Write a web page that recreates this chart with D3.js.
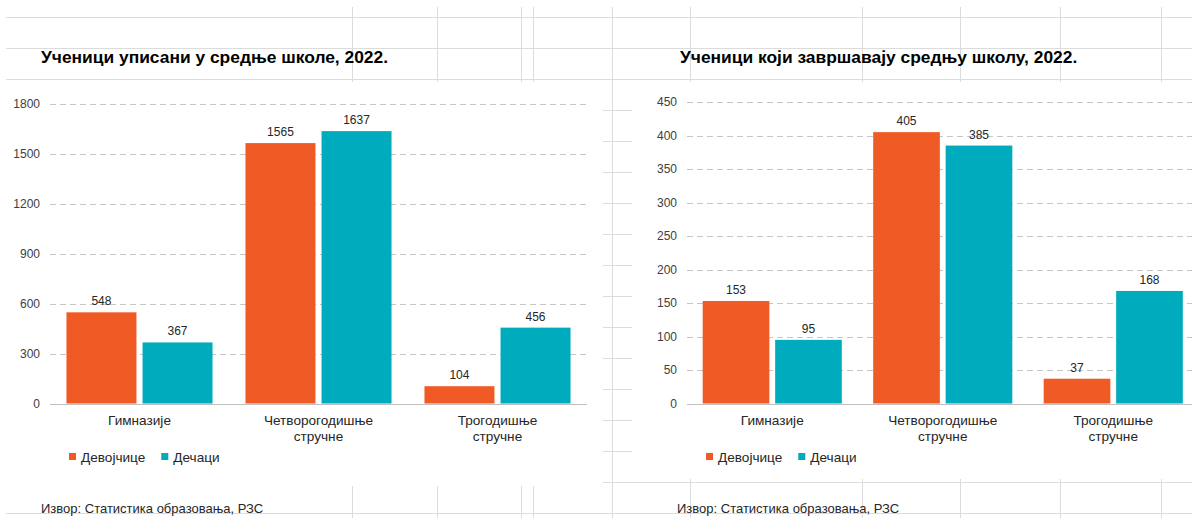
<!DOCTYPE html>
<html>
<head>
<meta charset="utf-8">
<script src="https://cdn.jsdelivr.net/npm/d3@7"></script>
<style>
  body { margin: 0; background: #fff; }
  svg { display: block; font-family: "Liberation Sans", Arial, sans-serif; }
</style>
</head>
<body>
<div id="chart"></div>
<script>
// data
var categories = ["Гимназије", "Четворогодишње стручне", "Трогодишње стручне"];
var seriesNames = ["Девојчице", "Дечаци"];
var seriesColors = ["#f05a24", "#00abbd"];

var enrolledGirls = [548, 1565, 104];
var enrolledBoys = [367, 1637, 456];
var enrolledTicks = [0, 300, 600, 900, 1200, 1500, 1800];

var finishingGirls = [153, 405, 37];
var finishingBoys = [95, 385, 168];
var finishingTicks = [0, 50, 100, 150, 200, 250, 300, 350, 400, 450];

var titles = ["Ученици уписани у средње школе, 2022.", "Ученици који завршавају средњу школу, 2022."];
var sourceText = "Извор: Статистика образовања, РЗС";

var W = 1192, H = 518;

var svg = d3.select("#chart").append("svg")
    .attr("width", W)
    .attr("height", H);

// spreadsheet cell lines behind the charts
var sheet = svg.append("g").attr("stroke", "#dcdcdc").attr("stroke-width", 1);
d3.range(17, H, 31).forEach(function(y) {
  sheet.append("line").attr("x1", 6).attr("x2", W).attr("y1", y + 0.5).attr("y2", y + 0.5);
});
[352, 437, 521, 533, 612, 690, 862, 960, 1060, 1161].forEach(function(x) {
  sheet.append("line").attr("x1", x + 0.5).attr("x2", x + 0.5).attr("y1", 7).attr("y2", H);
});

// white chart boxes
svg.append("rect").attr("x", 0).attr("y", 82).attr("width", 603).attr("height", 404).attr("fill", "#fff");
svg.append("rect").attr("x", 632).attr("y", 82).attr("width", W - 632).attr("height", 397).attr("fill", "#fff");

function drawChart(cfg) {
  var g = svg.append("g");

  var y = d3.scaleLinear()
      .domain([0, d3.max(cfg.ticks)])
      .range([cfg.bottom, cfg.top]);

  var x0 = d3.scaleBand()
      .domain(categories)
      .range([cfg.left, cfg.right])
      .paddingInner(0.184)
      .paddingOuter(0.092);

  var x1 = d3.scaleBand()
      .domain(seriesNames)
      .range([0, x0.bandwidth()])
      .paddingInner(0.08);

  // title
  g.append("text")
      .attr("x", cfg.titleX)
      .attr("y", 63)
      .attr("font-size", 17.4)
      .attr("font-weight", "bold")
      .attr("fill", "#000")
      .text(cfg.title);

  // dashed gridlines
  var yAxis = d3.axisLeft(y)
      .tickValues(cfg.ticks)
      .tickFormat(d3.format("d"))
      .tickSize(-(cfg.gridRight - cfg.left))
      .tickPadding(10);

  var ya = g.append("g")
      .attr("transform", "translate(" + cfg.left + ",0)")
      .call(yAxis);
  ya.select(".domain").remove();
  ya.selectAll(".tick line")
      .attr("stroke", "#c6c6c6")
      .attr("stroke-dasharray", "6,4")
      .attr("shape-rendering", "crispEdges")
      .filter(function(d) { return d === 0; }).remove();
  ya.selectAll(".tick text")
      .attr("font-size", 12)
      .attr("font-family", "Liberation Sans, Arial, sans-serif")
      .attr("fill", "#404040");

  // bars
  var rows = categories.map(function(c, i) {
    return { cat: c, vals: [cfg.girls[i], cfg.boys[i]] };
  });

  var grp = g.selectAll(".grp")
      .data(rows)
      .enter().append("g")
      .attr("transform", function(d) { return "translate(" + x0(d.cat) + ",0)"; });

  grp.selectAll("rect")
      .data(function(d) { return d.vals.map(function(v, j) { return { s: seriesNames[j], v: v, j: j }; }); })
      .enter().append("rect")
      .attr("x", function(d) { return x1(d.s); })
      .attr("y", function(d) { return y(d.v); })
      .attr("width", x1.bandwidth())
      .attr("height", function(d) { return y(0) - y(d.v); })
      .attr("fill", function(d) { return seriesColors[d.j]; });

  grp.selectAll(".val")
      .data(function(d) { return d.vals.map(function(v, j) { return { s: seriesNames[j], v: v }; }); })
      .enter().append("text")
      .attr("x", function(d) { return x1(d.s) + x1.bandwidth() / 2; })
      .attr("y", function(d) { return y(d.v) - 7; })
      .attr("text-anchor", "middle")
      .attr("font-size", 12)
      .attr("fill", "#262626")
      .text(function(d) { return d.v; });

  // baseline
  g.append("line")
      .attr("x1", cfg.left).attr("x2", cfg.gridRight)
      .attr("y1", Math.round(y(0)) + 0.5).attr("y2", Math.round(y(0)) + 0.5)
      .attr("stroke", "#bfbfbf");

  // category labels
  var xa = g.append("g")
      .attr("transform", "translate(0," + y(0) + ")")
      .call(d3.axisBottom(x0).tickSize(0).tickFormat(""));
  xa.select(".domain").remove();
  xa.selectAll(".tick").append("text")
      .attr("text-anchor", "middle")
      .attr("font-size", 13.6)
      .attr("font-family", "Liberation Sans, Arial, sans-serif")
      .attr("fill", "#262626")
      .selectAll("tspan")
      .data(function(d) { return d.split(" "); })
      .enter().append("tspan")
      .attr("x", 0)
      .attr("y", function(d, i) { return 21.5 + i * 16; })
      .text(function(d) { return d; });

  // legend
  var lg = g.append("g").attr("transform", "translate(0,457)");
  var lx = cfg.legendX;
  seriesNames.forEach(function(name, j) {
    lg.append("rect")
        .attr("x", lx).attr("y", -4)
        .attr("width", 7).attr("height", 7)
        .attr("fill", seriesColors[j]);
    var t = lg.append("text")
        .attr("x", lx + 12).attr("y", 5)
        .attr("font-size", 13.6)
        .attr("fill", "#262626")
        .text(name);
    lx += 12 + t.node().getComputedTextLength() + 16;
  });

  // source
  g.append("text")
      .attr("x", cfg.sourceX)
      .attr("y", 513)
      .attr("font-size", 13)
      .attr("fill", "#262626")
      .text(sourceText);
}

drawChart({
  title: titles[0], titleX: 41,
  girls: enrolledGirls, boys: enrolledBoys, ticks: enrolledTicks,
  left: 50, right: 587, gridRight: 587, top: 104, bottom: 403.5,
  legendX: 69, sourceX: 41
});

drawChart({
  title: titles[1], titleX: 680,
  girls: finishingGirls, boys: finishingBoys, ticks: finishingTicks,
  left: 687, right: 1198.5, gridRight: 1192, top: 102, bottom: 403.5,
  legendX: 706, sourceX: 677
});
</script>
</body>
</html>
